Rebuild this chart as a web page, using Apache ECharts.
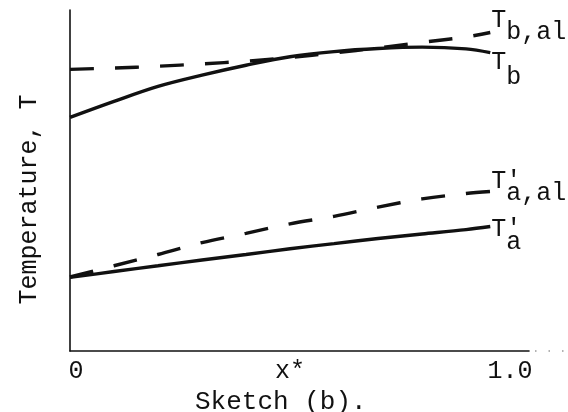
<!DOCTYPE html>
<html>
<head>
<meta charset="utf-8">
<style>
html,body{margin:0;padding:0;background:#fff;}
#c{width:568px;height:412px;}
</style>
<script src="https://cdn.jsdelivr.net/npm/echarts/dist/echarts.min.js"></script>
</head>
<body>
<div id="c"></div>
<script>
// ---- data (arbitrary temperature units 0..100) ----
const xs      = [0, 0.1, 0.2, 0.3, 0.4, 0.5, 0.6, 0.7, 0.8, 0.9, 0.955];
const tbAl    = [82.6, 83.0, 83.5, 84.2, 85.0, 86.1, 87.4, 88.9, 90.5, 92.1, 93.4];
const tb      = [68.5, 73.2, 77.6, 80.9, 83.8, 86.3, 87.8, 88.7, 89.1, 88.6, 87.5];
const taAl    = [21.7, 25.0, 28.3, 31.8, 34.5, 37.3, 39.5, 42.2, 44.6, 46.2, 46.8];
const ta      = [21.6, 23.3, 25.0, 26.7, 28.3, 30.0, 31.5, 33.0, 34.3, 35.6, 36.5];
const xTickValues = [0, 0.5, 1.0];
const xTickLabels = ['0', 'x*', '1.0'];
const seriesNames = ['T_b,al', 'T_b', "T'_a,al", "T'_a"];
const endLabels   = ['T\n b,al', 'T\n b', "T'\n a,al", "T'\n a"];
const yTitle = 'Temperature, T';
const caption = 'Sketch (b).';

const FONT = 'Liberation Mono';
const INK = '#111';

function mk(name, ys, dashed, labelText, dy, lh) {
  return {
    type: 'line',
    name: name,
    data: xs.map((x, i) => [x, ys[i]]),
    smooth: 0.35,
    symbol: 'none',
    lineStyle: { color: INK, width: 3.4, type: dashed ? [24, 21] : 'solid', cap: 'butt' },
    endLabel: {
      show: true,
      formatter: labelText,
      distance: 1,
      offset: [0, dy],
      fontFamily: FONT,
      fontSize: 25,
      lineHeight: lh,
      color: INK
    },
    emphasis: { disabled: true },
    z: 3
  };
}

const chart = echarts.init(document.getElementById('c'), null, { renderer: 'canvas' });
chart.setOption({
  animation: false,
  backgroundColor: '#fff',
  title: {
    text: caption,
    left: 190, top: 384,
    textStyle: { fontFamily: FONT, fontSize: 26, fontWeight: 'normal', color: INK }
  },
  grid: { left: 70, right: 39, top: 10, bottom: 61, containLabel: false },
  xAxis: {
    type: 'value', min: 0, max: 1.043, interval: 0.5,
    axisLine: { show: true, lineStyle: { color: INK, width: 1.6 } },
    axisTick: { show: false },
    splitLine: { show: false },
    axisLabel: {
      margin: 8,
      fontFamily: FONT, fontSize: 25, color: INK,
      formatter: function (v) {
        const i = xTickValues.findIndex(t => Math.abs(t - v) < 1e-9);
        if (i < 0) return '';
        return i === 0 ? '{z|' + xTickLabels[i] + '}' : xTickLabels[i];
      },
      rich: { z: { fontFamily: FONT, fontSize: 25, color: INK, padding: [0, 0, 0, 12] } }
    }
  },
  yAxis: {
    type: 'value', min: 0, max: 100,
    axisLine: { show: true, lineStyle: { color: INK, width: 1.6 } },
    axisTick: { show: false },
    axisLabel: { show: false },
    splitLine: { show: false },
    name: yTitle,
    nameLocation: 'middle',
    nameGap: 28,
    nameTextStyle: { fontFamily: FONT, fontSize: 25, color: INK, padding: [0, 38, 0, 0] }
  },
  series: [
    mk(seriesNames[0], tbAl, true,  endLabels[0], -6.5, 12),
    mk(seriesNames[1], tb,   false, endLabels[1], 17, 15),
    mk(seriesNames[2], taAl, true,  endLabels[2], -4, 12),
    mk(seriesNames[3], ta,   false, endLabels[3], 9, 13)
  ]
});

// dotted continuation of the abscissa beyond the drawn axis
const pEnd = chart.convertToPixel({ gridIndex: 0 }, [1.043, 0]);
chart.setOption({
  graphic: [{
    type: 'line', silent: true,
    shape: { x1: pEnd[0] + 6, y1: pEnd[1], x2: 568, y2: pEnd[1] },
    style: { stroke: '#666', lineWidth: 1.2, lineDash: [1.5, 12] }
  }]
});
</script>
</body>
</html>
